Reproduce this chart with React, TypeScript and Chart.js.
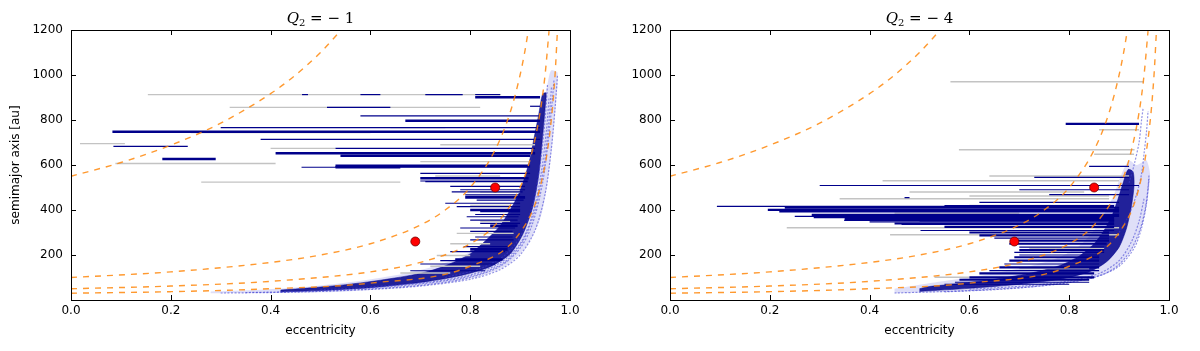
import React, { useEffect, useRef } from "react";
import { Chart, registerables } from "chart.js";

Chart.register(...registerables);

// ---------- axes ----------
const eTicks = [0, 0.2, 0.4, 0.6, 0.8, 1.0];
const aTicks = [200, 400, 600, 800, 1000, 1200];

// ---------- constant-perihelion guide curves: [e, a] ----------
const curveQ550 = [[0, 550], [0.1, 611], [0.2, 688], [0.3, 786], [0.4, 917], [0.45, 1000], [0.5, 1100], [0.54, 1196]];
const curveQ100 = [[0, 100], [0.2, 125], [0.4, 167], [0.5, 200], [0.6, 250], [0.7, 333], [0.75, 400], [0.8, 500], [0.85, 667], [0.88, 833], [0.9, 1000], [0.91, 1111], [0.917, 1205]];
const curveQ50 = [[0, 50], [0.2, 62], [0.4, 83], [0.6, 125], [0.7, 167], [0.8, 250], [0.85, 333], [0.9, 500], [0.92, 625], [0.94, 833], [0.95, 1000], [0.958, 1195]];
const curveQ30 = [[0, 30], [0.2, 37], [0.4, 50], [0.6, 75], [0.8, 150], [0.9, 300], [0.94, 500], [0.96, 750], [0.97, 1000], [0.975, 1205]];

// ---------- observed objects (red points) ----------
const redE = [0.69, 0.85];
const redA = [260, 500];

// ---------- panel Q2 = -1 : horizontal tracks [a, eStart, eEnd] ----------
const grayL = [
  [913, 0.154, 0.862], [856, 0.318, 0.82], [695, 0.018, 0.108], [607, 0.089, 0.41],
  [674, 0.40, 0.53], [524, 0.261, 0.66], [744, 0.24, 0.6], [690, 0.74, 0.93],
  [551, 0.73, 0.86], [766, 0.64, 0.75], [480, 0.82, 0.9], [420, 0.8, 0.88],
  [296, 0.773, 0.887], [198, 0.733, 0.8], [150, 0.72, 0.82], [350, 0.82, 0.88],
  [615, 0.70, 0.92], [250, 0.76, 0.84], [120, 0.66, 0.76],
];
const blueThickL = [
  [901, 0.81, 0.94], [797, 0.67, 0.94], [748, 0.083, 0.94], [652, 0.41, 0.93],
  [641, 0.54, 0.92], [627, 0.183, 0.29], [596, 0.53, 0.92], [590, 0.53, 0.66],
  [456, 0.79, 0.91], [541, 0.70, 0.917], [400, 0.80, 0.90], [330, 0.84, 0.895],
  [225, 0.80, 0.875], [180, 0.77, 0.865],
];
const blueThinL = [
  [913, 0.463, 0.475], [913, 0.58, 0.62], [913, 0.71, 0.785], [913, 0.81, 0.86],
  [856, 0.513, 0.64], [861, 0.92, 0.94], [818, 0.58, 0.94], [766, 0.30, 0.94],
  [714, 0.38, 0.94], [683, 0.085, 0.234], [674, 0.53, 0.93], [590, 0.462, 0.92],
  [563, 0.70, 0.92], [529, 0.70, 0.915], [526, 0.71, 0.915], [481, 0.763, 0.905],
  [467, 0.79, 0.90], [444, 0.813, 0.907], [430, 0.75, 0.90], [415, 0.773, 0.90],
  [393, 0.82, 0.90], [370, 0.793, 0.897], [341, 0.82, 0.90], [320, 0.78, 0.89],
  [267, 0.80, 0.887], [237, 0.787, 0.88], [215, 0.76, 0.87], [175, 0.74, 0.86],
  [505, 0.76, 0.91], [490, 0.78, 0.91], [380, 0.81, 0.90], [355, 0.80, 0.895],
  [305, 0.80, 0.885], [280, 0.81, 0.885], [160, 0.70, 0.85], [130, 0.68, 0.83],
];
const coreL = [
  [0.42, 36], [0.5, 42], [0.6, 55], [0.7, 78], [0.78, 108], [0.84, 148], [0.88, 205], [0.905, 290],
  [0.925, 410], [0.937, 550], [0.944, 700], [0.95, 850], [0.952, 920],
  [0.945, 915], [0.937, 820], [0.928, 720], [0.92, 630], [0.91, 550], [0.897, 470], [0.88, 400],
  [0.86, 330], [0.83, 262], [0.8, 205], [0.75, 152], [0.7, 118], [0.62, 88], [0.55, 68], [0.48, 54], [0.42, 44],
];
const fringeL = [
  [0.28, 30], [0.45, 32], [0.55, 38], [0.65, 52], [0.75, 76], [0.82, 105], [0.87, 150], [0.91, 230],
  [0.94, 360], [0.955, 520], [0.965, 700], [0.972, 880], [0.975, 1010],
  [0.962, 1020], [0.955, 960], [0.948, 880], [0.94, 800], [0.93, 700], [0.92, 600], [0.905, 500],
  [0.89, 420], [0.87, 350], [0.845, 290], [0.815, 235], [0.78, 190], [0.72, 145], [0.65, 110],
  [0.57, 82], [0.48, 60], [0.38, 46], [0.28, 38],
];
const tracksL = [
  [[0.3, 31], [0.45, 35], [0.6, 47], [0.7, 62], [0.8, 92], [0.86, 135], [0.9, 200], [0.93, 310], [0.95, 470], [0.962, 660], [0.97, 850], [0.975, 1000]],
  [[0.35, 33], [0.5, 40], [0.62, 52], [0.72, 70], [0.8, 100], [0.86, 150], [0.9, 230], [0.925, 340], [0.945, 520], [0.957, 720], [0.965, 900], [0.968, 980]],
  [[0.5, 45], [0.65, 62], [0.75, 85], [0.82, 118], [0.87, 170], [0.905, 260], [0.93, 400], [0.948, 600], [0.958, 800], [0.963, 950]],
  [[0.6, 58], [0.72, 80], [0.8, 112], [0.86, 165], [0.9, 250], [0.925, 380], [0.942, 560], [0.953, 760], [0.958, 900]],
  [[0.75, 100], [0.82, 140], [0.87, 200], [0.9, 280], [0.925, 420], [0.94, 600], [0.95, 800], [0.955, 960]],
];

// ---------- panel Q2 = -4 ----------
const grayR = [
  [970, 0.562, 0.95], [668, 0.579, 0.931], [648, 0.85, 0.93], [757, 0.86, 0.94],
  [551, 0.64, 0.92], [530, 0.426, 0.90], [480, 0.48, 0.83], [450, 0.34, 0.88],
  [321, 0.234, 0.90], [290, 0.441, 0.90], [420, 0.60, 0.88], [230, 0.72, 0.87],
  [101, 0.53, 0.60], [462, 0.60, 0.88], [140, 0.70, 0.84], [386, 0.45, 0.70],
];
const blueThickR = [
  [783, 0.793, 0.94], [401, 0.196, 0.90], [394, 0.219, 0.90], [378, 0.284, 0.90],
  [368, 0.288, 0.89], [287, 0.62, 0.88], [101, 0.60, 0.85], [354, 0.50, 0.89],
  [264, 0.69, 0.88], [190, 0.69, 0.86], [410, 0.23, 0.90],
  [360, 0.35, 0.89], [340, 0.45, 0.89],
  [325, 0.55, 0.89], [300, 0.60, 0.88], [250, 0.68, 0.875], [222, 0.70, 0.87],
  [175, 0.68, 0.86], [145, 0.66, 0.86], [118, 0.62, 0.85], [90, 0.58, 0.84],
];
const blueThinR = [
  [594, 0.84, 0.92], [509, 0.30, 0.94], [545, 0.73, 0.92], [490, 0.70, 0.92],
  [468, 0.76, 0.92], [434, 0.62, 0.90], [416, 0.094, 0.89], [354, 0.349, 0.89],
  [336, 0.464, 0.89], [309, 0.502, 0.89], [235, 0.70, 0.87], [212, 0.69, 0.87],
  [160, 0.67, 0.86], [131, 0.64, 0.86], [79, 0.571, 0.84], [455, 0.47, 0.48],
  [372, 0.25, 0.90], [347, 0.40, 0.89], [420, 0.55, 0.89], [200, 0.70, 0.86],
  [70, 0.55, 0.80], [275, 0.65, 0.88],
];
const coreR = [
  [0.5, 38], [0.6, 52], [0.7, 70], [0.78, 92], [0.84, 125], [0.875, 170], [0.9, 235], [0.915, 320],
  [0.925, 420], [0.93, 510], [0.928, 570],
  [0.918, 580], [0.908, 520], [0.898, 450], [0.885, 370], [0.87, 310], [0.85, 250], [0.82, 195],
  [0.78, 152], [0.72, 118], [0.65, 92], [0.58, 73], [0.52, 60], [0.5, 50],
];
const fringeR = [
  [0.45, 30], [0.58, 38], [0.7, 55], [0.8, 78], [0.86, 108], [0.9, 155], [0.93, 240], [0.948, 350],
  [0.958, 460], [0.962, 560], [0.955, 620],
  [0.945, 610], [0.935, 600], [0.92, 620], [0.905, 560], [0.89, 470], [0.87, 380], [0.85, 310],
  [0.82, 240], [0.78, 190], [0.72, 150], [0.64, 115], [0.56, 88], [0.5, 68], [0.45, 50],
];
const tracksR = [
  [[0.45, 31], [0.6, 42], [0.72, 58], [0.8, 78], [0.86, 108], [0.9, 150], [0.93, 230], [0.945, 320], [0.955, 430], [0.96, 540]],
  [[0.55, 36], [0.68, 50], [0.78, 72], [0.85, 100], [0.89, 140], [0.92, 210], [0.94, 300], [0.952, 400], [0.958, 500], [0.96, 560]],
  [[0.9, 300], [0.92, 380], [0.935, 470], [0.945, 560], [0.95, 650], [0.955, 750], [0.958, 840]],
  [[0.92, 520], [0.93, 600], [0.94, 700], [0.945, 800], [0.948, 850]],
  [[0.6, 48], [0.72, 64], [0.8, 85], [0.86, 118], [0.9, 175], [0.925, 260], [0.94, 350], [0.95, 450]],
];

const NAVY = "#00008b";
const GRAY = "#c3c3c3";
const ORANGE = "rgba(255,135,10,0.85)";
const FONT = "'DejaVu Sans', sans-serif";

function segDatasets(segs: number[][], color: string, width: number, order: number) {
  return segs.map(([a, e0, e1]) => ({
    type: "line",
    data: [{ x: e0, y: a }, { x: e1, y: a }],
    borderColor: color,
    borderWidth: width,
    pointRadius: 0,
    fill: false,
    order,
  }));
}

function polyDataset(pts: number[][], fillColor: string, edge: string, order: number) {
  return {
    type: "line",
    data: pts.map(([e, a]) => ({ x: e, y: a })),
    backgroundColor: fillColor,
    borderColor: edge,
    borderWidth: 1,
    pointRadius: 0,
    fill: "shape",
    tension: 0.25,
    order,
  };
}

function trackDatasets(tracks: number[][][], order: number) {
  return tracks.map((t) => ({
    type: "line",
    data: t.map(([e, a]) => ({ x: e, y: a })),
    borderColor: "rgba(60,60,210,0.55)",
    borderWidth: 1.2,
    borderDash: [2, 1.5],
    pointRadius: 0,
    fill: false,
    tension: 0.3,
    order,
  }));
}

function curveDataset(pts: number[][]) {
  return {
    type: "line",
    data: pts.map(([e, a]) => ({ x: e, y: a })),
    borderColor: ORANGE,
    borderWidth: 1.4,
    borderDash: [6, 6],
    pointRadius: 0,
    fill: false,
    cubicInterpolationMode: "monotone",
    order: 1,
  };
}

const decoPlugin = {
  id: "deco",
  afterDraw(chart: any) {
    const { ctx, chartArea: ca, scales } = chart;
    const o = chart.options.plugins.deco;
    ctx.save();
    ctx.strokeStyle = "#000";
    ctx.lineWidth = 1;
    ctx.strokeRect(Math.round(ca.left) + 0.5, Math.round(ca.top) + 0.5, Math.round(ca.right - ca.left), Math.round(ca.bottom - ca.top));
    ctx.beginPath();
    const tl = 5;
    for (const v of eTicks) {
      const x = Math.round(scales.x.getPixelForValue(v)) + 0.5;
      ctx.moveTo(x, ca.bottom);
      ctx.lineTo(x, ca.bottom - tl);
      ctx.moveTo(x, ca.top);
      ctx.lineTo(x, ca.top + tl);
    }
    for (const v of aTicks) {
      const y = Math.round(scales.y.getPixelForValue(v)) + 0.5;
      ctx.moveTo(ca.left, y);
      ctx.lineTo(ca.left + tl, y);
      ctx.moveTo(ca.right, y);
      ctx.lineTo(ca.right - tl, y);
    }
    ctx.stroke();

    // title: Q_2 = -N
    const big = "15px 'DejaVu Serif', serif";
    const bigI = "italic 15px 'DejaVu Serif', serif";
    const small = "10px 'DejaVu Serif', serif";
    const rest = " = \u2212 " + o.n;
    ctx.font = bigI;
    const wQ = ctx.measureText("Q").width;
    ctx.font = small;
    const w2 = ctx.measureText("2").width;
    ctx.font = big;
    const wR = ctx.measureText(rest).width;
    const total = wQ + w2 + wR;
    let x = (ca.left + ca.right) / 2 - total / 2;
    const base = 23;
    ctx.fillStyle = "#000";
    ctx.textBaseline = "alphabetic";
    ctx.textAlign = "left";
    ctx.font = bigI;
    ctx.fillText("Q", x, base);
    x += wQ;
    ctx.font = small;
    ctx.fillText("2", x, base + 3);
    x += w2;
    ctx.font = big;
    ctx.fillText(rest, x, base);
    ctx.restore();
  },
};

function buildConfig(p: any) {
  const datasets: any[] = [
    {
      type: "line",
      data: redE.map((e, i) => ({ x: e, y: redA[i] })),
      showLine: false,
      pointRadius: 4.5,
      pointBackgroundColor: "#ff0000",
      pointBorderColor: "#700000",
      pointBorderWidth: 0.8,
      order: 0,
    },
    curveDataset(curveQ550),
    curveDataset(curveQ100),
    curveDataset(curveQ50),
    curveDataset(curveQ30),
    ...segDatasets(p.blueThick, NAVY, p.thickW, 4),
    ...segDatasets(p.blueThin, NAVY, 1.2, 5),
    ...segDatasets(p.gray, GRAY, 1.4, 6),
    ...trackDatasets(p.tracks, 7),
    polyDataset(p.core, "rgba(0,0,139,0.85)", "rgba(0,0,139,0.5)", 8),
    polyDataset(p.fringe, "rgba(80,80,215,0.18)", "rgba(80,80,215,0.0)", 9),
  ];
  return {
    type: "line",
    data: { datasets },
    plugins: [decoPlugin],
    options: {
      responsive: false,
      animation: false,
      devicePixelRatio: 1,
      layout: { padding: { top: 30, right: 30, left: 0, bottom: 0 } },
      plugins: {
        legend: { display: false },
        tooltip: { enabled: false },
        title: { display: false },
        deco: { n: p.n },
      },
      elements: { point: { radius: 0 } },
      scales: {
        x: {
          type: "linear",
          min: 0,
          max: 1,
          grid: { display: false, drawTicks: false },
          border: { display: false },
          afterBuildTicks: (s: any) => { s.ticks = eTicks.map((v) => ({ value: v })); },
          afterFit: (s: any) => { s.height = 51; },
          ticks: {
            padding: 4,
            color: "#000",
            font: { family: FONT, size: 12 },
            callback: (v: any) => Number(v).toFixed(1),
          },
          title: {
            display: true,
            text: "eccentricity",
            color: "#000",
            font: { family: FONT, size: 12 },
            padding: { top: 0, bottom: 13 },
          },
        },
        y: {
          type: "linear",
          min: 0,
          max: 1200,
          grid: { display: false, drawTicks: false },
          border: { display: false },
          afterBuildTicks: (s: any) => { s.ticks = aTicks.map((v) => ({ value: v })); },
          afterFit: (s: any) => { s.width = 71; },
          ticks: {
            padding: 8,
            color: "#000",
            font: { family: FONT, size: 12 },
            callback: (v: any) => String(v),
          },
          title: {
            display: p.showY,
            text: "semimajor axis [au]",
            color: "#000",
            font: { family: FONT, size: 12 },
            padding: { top: 9, bottom: 0 },
          },
        },
      },
    },
  };
}

const panelL = { n: "1", showY: true, thickW: 2.6, gray: grayL, blueThick: blueThickL, blueThin: blueThinL, core: coreL, fringe: fringeL, tracks: tracksL };
const panelR = { n: "4", showY: false, thickW: 2.2, gray: grayR, blueThick: blueThickR, blueThin: blueThinR, core: coreR, fringe: fringeR, tracks: tracksR };

function Panel({ left, p }: { left: number; p: any }) {
  const ref = useRef<HTMLCanvasElement>(null);
  useEffect(() => {
    const chart = new Chart(ref.current as HTMLCanvasElement, buildConfig(p) as any);
    return () => chart.destroy();
  }, [p]);
  return (
    <canvas
      ref={ref}
      width={600}
      height={351}
      style={{ position: "absolute", left, top: 0, width: 600, height: 351 }}
    />
  );
}

export default function App() {
  return (
    <div style={{ position: "fixed", left: 0, top: 0, width: 1200, height: 351, background: "#fff", overflow: "hidden" }}>
      <Panel left={0} p={panelL} />
      <Panel left={599} p={panelR} />
    </div>
  );
}
